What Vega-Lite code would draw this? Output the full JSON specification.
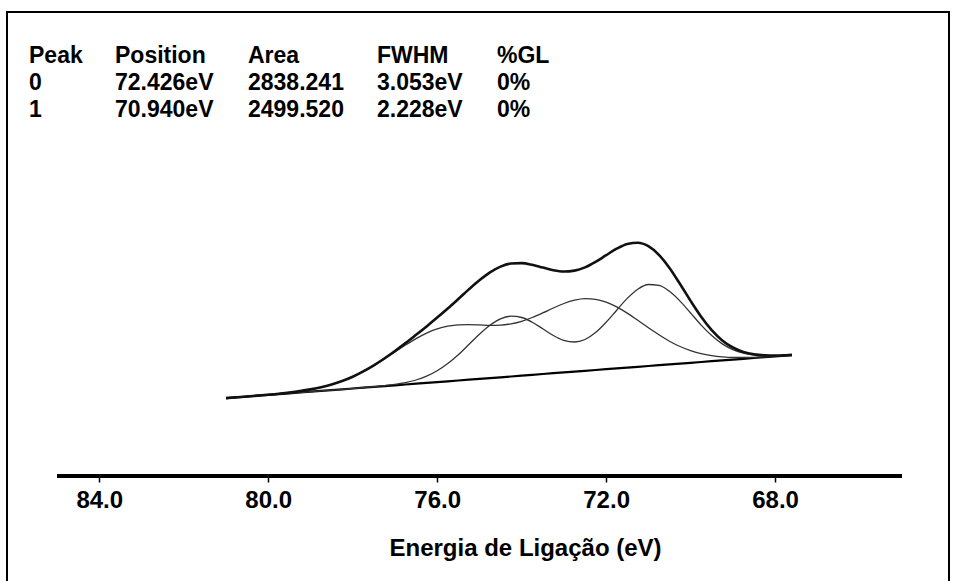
{
  "$schema": "https://vega.github.io/schema/vega-lite/v6.json",
  "width": 942,
  "height": 575,
  "autosize": {"type": "none"},
  "padding": {"left": 7, "top": 12, "right": 7, "bottom": 0},
  "background": "white",
  "config": {"view": {"stroke": "#000", "strokeWidth": 2}, "font": "Liberation Sans"},
  "datasets": {
    "spectrum": [
      {"E": 81.0, "bg": 77.8, "p0": 77.9, "p1": 77.8, "env": 77.9},
      {"E": 80.75, "bg": 78.6, "p0": 78.7, "p1": 78.6, "env": 78.7},
      {"E": 80.5, "bg": 79.5, "p0": 79.5, "p1": 79.5, "env": 79.5},
      {"E": 80.25, "bg": 80.3, "p0": 80.4, "p1": 80.3, "env": 80.4},
      {"E": 80.0, "bg": 81.1, "p0": 81.3, "p1": 81.1, "env": 81.3},
      {"E": 79.75, "bg": 81.9, "p0": 82.3, "p1": 81.9, "env": 82.3},
      {"E": 79.5, "bg": 82.7, "p0": 83.5, "p1": 82.7, "env": 83.5},
      {"E": 79.25, "bg": 83.5, "p0": 84.9, "p1": 83.5, "env": 84.9},
      {"E": 79.0, "bg": 84.3, "p0": 86.6, "p1": 84.3, "env": 86.6},
      {"E": 78.75, "bg": 85.1, "p0": 88.7, "p1": 85.1, "env": 88.7},
      {"E": 78.5, "bg": 85.9, "p0": 91.5, "p1": 85.9, "env": 91.5},
      {"E": 78.25, "bg": 86.7, "p0": 95.0, "p1": 86.7, "env": 95.0},
      {"E": 78.0, "bg": 87.5, "p0": 99.3, "p1": 87.5, "env": 99.3},
      {"E": 77.75, "bg": 88.3, "p0": 104.5, "p1": 88.4, "env": 104.6},
      {"E": 77.5, "bg": 89.1, "p0": 110.5, "p1": 89.3, "env": 110.7},
      {"E": 77.25, "bg": 89.9, "p0": 117.1, "p1": 90.3, "env": 117.5},
      {"E": 77.0, "bg": 90.7, "p0": 124.1, "p1": 91.6, "env": 125.0},
      {"E": 76.75, "bg": 91.5, "p0": 131.0, "p1": 93.4, "env": 132.9},
      {"E": 76.5, "bg": 92.3, "p0": 137.4, "p1": 96.0, "env": 141.2},
      {"E": 76.25, "bg": 93.1, "p0": 142.9, "p1": 99.8, "env": 149.6},
      {"E": 76.0, "bg": 93.9, "p0": 147.1, "p1": 105.2, "env": 158.4},
      {"E": 75.75, "bg": 94.7, "p0": 149.8, "p1": 112.4, "env": 167.5},
      {"E": 75.5, "bg": 95.5, "p0": 151.2, "p1": 121.3, "env": 177.0},
      {"E": 75.25, "bg": 96.3, "p0": 151.4, "p1": 131.5, "env": 186.6},
      {"E": 75.0, "bg": 97.1, "p0": 151.1, "p1": 141.8, "env": 195.7},
      {"E": 74.75, "bg": 97.9, "p0": 150.7, "p1": 150.8, "env": 203.6},
      {"E": 74.5, "bg": 98.7, "p0": 150.9, "p1": 157.2, "env": 209.4},
      {"E": 74.25, "bg": 99.5, "p0": 152.2, "p1": 159.8, "env": 212.5},
      {"E": 74.0, "bg": 100.3, "p0": 154.7, "p1": 158.5, "env": 212.9},
      {"E": 73.75, "bg": 101.1, "p0": 158.5, "p1": 153.8, "env": 211.2},
      {"E": 73.5, "bg": 102.0, "p0": 163.1, "p1": 147.2, "env": 208.4},
      {"E": 73.25, "bg": 102.8, "p0": 168.0, "p1": 140.5, "env": 205.8},
      {"E": 73.0, "bg": 103.6, "p0": 172.5, "p1": 135.6, "env": 204.5},
      {"E": 72.75, "bg": 104.4, "p0": 175.8, "p1": 134.0, "env": 205.4},
      {"E": 72.5, "bg": 105.2, "p0": 177.3, "p1": 136.5, "env": 208.6},
      {"E": 72.25, "bg": 106.0, "p0": 176.7, "p1": 143.4, "env": 214.1},
      {"E": 72.0, "bg": 106.8, "p0": 173.9, "p1": 153.7, "env": 220.8},
      {"E": 71.75, "bg": 107.6, "p0": 169.1, "p1": 165.8, "env": 227.3},
      {"E": 71.5, "bg": 108.4, "p0": 162.9, "p1": 177.6, "env": 232.1},
      {"E": 71.25, "bg": 109.2, "p0": 155.7, "p1": 186.8, "env": 233.3},
      {"E": 71.0, "bg": 110.0, "p0": 148.3, "p1": 191.5, "env": 229.8},
      {"E": 70.75, "bg": 110.8, "p0": 141.2, "p1": 190.7, "env": 221.1},
      {"E": 70.5, "bg": 111.6, "p0": 134.8, "p1": 184.7, "env": 208.0},
      {"E": 70.25, "bg": 112.4, "p0": 129.5, "p1": 174.9, "env": 192.0},
      {"E": 70.0, "bg": 113.2, "p0": 125.4, "p1": 163.0, "env": 175.1},
      {"E": 69.75, "bg": 114.0, "p0": 122.3, "p1": 150.9, "env": 159.3},
      {"E": 69.5, "bg": 114.8, "p0": 120.3, "p1": 140.4, "env": 145.9},
      {"E": 69.25, "bg": 115.6, "p0": 119.1, "p1": 132.1, "env": 135.6},
      {"E": 69.0, "bg": 116.4, "p0": 118.5, "p1": 126.4, "env": 128.5},
      {"E": 68.75, "bg": 117.2, "p0": 118.5, "p1": 122.8, "env": 124.1},
      {"E": 68.5, "bg": 118.0, "p0": 118.7, "p1": 121.0, "env": 121.7},
      {"E": 68.25, "bg": 118.8, "p0": 119.2, "p1": 120.3, "env": 120.7},
      {"E": 68.0, "bg": 119.6, "p0": 119.8, "p1": 120.3, "env": 120.5},
      {"E": 67.75, "bg": 120.4, "p0": 120.5, "p1": 120.7, "env": 120.8},
      {"E": 67.6, "bg": 120.9, "p0": 121.0, "p1": 121.1, "env": 121.1}
    ],
    "table": [
      {"r": 0, "c": 0, "t": "Peak"},
      {"r": 0, "c": 1, "t": "Position"},
      {"r": 0, "c": 2, "t": "Area"},
      {"r": 0, "c": 3, "t": "FWHM"},
      {"r": 0, "c": 4, "t": "%GL"},
      {"r": 1, "c": 0, "t": "0"},
      {"r": 1, "c": 1, "t": "72.426eV"},
      {"r": 1, "c": 2, "t": "2838.241"},
      {"r": 1, "c": 3, "t": "3.053eV"},
      {"r": 1, "c": 4, "t": "0%"},
      {"r": 2, "c": 0, "t": "1"},
      {"r": 2, "c": 1, "t": "70.940eV"},
      {"r": 2, "c": 2, "t": "2499.520"},
      {"r": 2, "c": 3, "t": "2.228eV"},
      {"r": 2, "c": 4, "t": "0%"}
    ]
  },
  "layer": [
    {
      "data": {"name": "spectrum"},
      "layer": [
        {
          "mark": {"type": "line", "color": "#000", "strokeWidth": 2.2, "interpolate": "linear"},
          "encoding": {
            "x": {"field": "E", "type": "quantitative", "scale": {"domain": [63.882, 86.185], "reverse": true, "nice": false, "zero": false},
              "axis": {"values": [84, 80, 76, 72, 68], "format": ".1f", "offset": -111, "domain": false, "grid": false, "ticks": true, "tickSize": 6, "tickWidth": 1.5, "tickColor": "#000", "labelFont": "Liberation Sans", "labelFontSize": 24, "labelFontWeight": "bold", "labelColor": "#000", "labelBaseline": "alphabetic", "labelPadding": 25, "labelDx": 2, "labelFlush": false, "labelOverlap": false, "title": "Energia de Ligação (eV)", "titleFont": "Liberation Sans", "titleFontSize": 24, "titleFontWeight": "bold", "titleColor": "#000", "titleAlign": "left", "titleX": 382, "titleY": 79, "titleBaseline": "alphabetic"}},
            "y": {"field": "bg", "type": "quantitative", "scale": {"domain": [-111, 464], "nice": false, "zero": false}, "axis": null}
          }
        },
        {
          "mark": {"type": "line", "color": "#333", "strokeWidth": 1.3, "interpolate": "monotone"},
          "encoding": {
            "x": {"field": "E", "type": "quantitative"},
            "y": {"field": "p0", "type": "quantitative"}
          }
        },
        {
          "mark": {"type": "line", "color": "#333", "strokeWidth": 1.3, "interpolate": "monotone"},
          "encoding": {
            "x": {"field": "E", "type": "quantitative"},
            "y": {"field": "p1", "type": "quantitative"}
          }
        },
        {
          "mark": {"type": "line", "color": "#111", "strokeWidth": 2.6, "interpolate": "monotone"},
          "encoding": {
            "x": {"field": "E", "type": "quantitative"},
            "y": {"field": "env", "type": "quantitative"}
          }
        },
        {
          "mark": {"type": "rule", "color": "#000", "strokeWidth": 2.5},
          "encoding": {
            "x": {"datum": 85},
            "x2": {"datum": 65},
            "y": {"datum": 0}
          }
        }
      ]
    },
    {
      "data": {"name": "table"},
      "mark": {"type": "text", "align": "left", "baseline": "alphabetic", "font": "Liberation Sans", "fontSize": 23, "fontWeight": "bold", "color": "#000"},
      "encoding": {
        "x": {"field": "c", "type": "quantitative", "scale": {"domain": [0, 1, 2, 3, 4], "range": [22, 108, 241, 370, 490], "nice": false, "zero": false}, "axis": null},
        "y": {"field": "r", "type": "quantitative", "scale": {"domain": [0, 2], "range": [51, 105], "nice": false, "zero": false}, "axis": null},
        "text": {"field": "t"}
      }
    }
  ],
  "resolve": {"scale": {"x": "independent", "y": "independent"}, "axis": {"x": "independent", "y": "independent"}}
}
